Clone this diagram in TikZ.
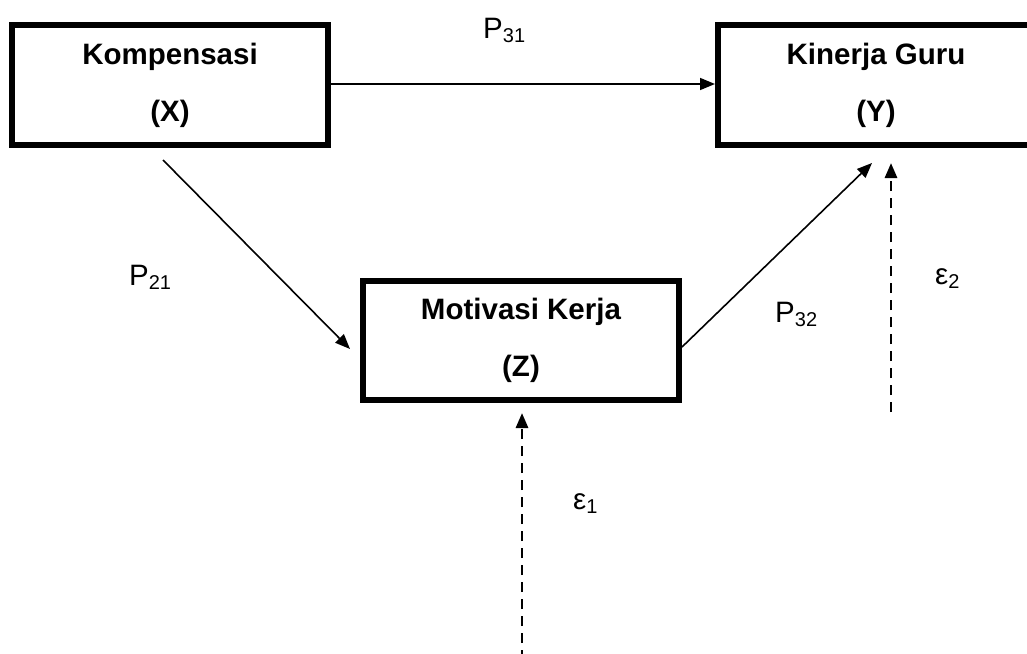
\documentclass[tikz,border=0pt]{standalone}
\usepackage{fontspec}
\setmainfont{Liberation Sans}
\usetikzlibrary{arrows.meta}
\newcommand{\mysub}[1]{\raisebox{-4.5pt}{\fontsize{20}{20}\selectfont #1}}
\tikzset{
  varbox/.style={draw=black, line width=6pt, minimum width=316pt, minimum height=120pt,
    align=center, inner sep=0pt, font=\fontsize{29.5}{57}\selectfont\bfseries},
  path arrow/.style={line width=1.6pt, -{Triangle[length=15pt,width=12pt]}},
  err arrow/.style={line width=2.8pt, dash pattern=on 10pt off 7pt, -{Triangle[length=15pt,width=12pt]}},
  lbl/.style={inner sep=0pt, anchor=base west, font=\fontsize{29.5}{29.5}\selectfont}
}
\begin{document}
\begin{tikzpicture}[x=1pt, y=-1pt]
\useasboundingbox (0,0) rectangle (1027,653);
\clip (0,0) rectangle (1027,653);
\fill[white] (0,0) rectangle (1027,653);

\node[varbox] (X) at (170,85) {Kompensasi\\(X)};
\node[varbox] (Y) at (876,85) {Kinerja Guru\\(Y)};
\node[varbox, minimum height=119pt] (Z) at (521,340.5) {Motivasi Kerja\\(Z)};

\coordinate (e1) at (522,660);
\coordinate (e2) at (891,412);

\draw[path arrow] ([yshift=1pt]X.east) -- ([yshift=1pt]Y.west);
\draw[path arrow] ([xshift=-7pt,yshift=-12pt]X.south) -- ([xshift=-10pt,yshift=-8.5pt]Z.west);
\draw[path arrow] ([yshift=-6.5pt]Z.east) -- ([xshift=-4pt,yshift=-15pt]Y.south);
\draw[err arrow] (e2) -- ([xshift=15pt,yshift=-15pt]Y.south);
\draw[err arrow] (e1) -- ([xshift=1pt,yshift=-10pt]Z.south);

\node[lbl] (p31) at (483,38) {P\mysub{31}};
\node[lbl] (p21) at (129,285) {P\mysub{21}};
\node[lbl] (p32) at (775,322) {P\mysub{32}};
\node[lbl] (eps1) at (573,509) {ε\mysub{1}};
\node[lbl] (eps2) at (935,284) {ε\mysub{2}};
\end{tikzpicture}
\end{document}
